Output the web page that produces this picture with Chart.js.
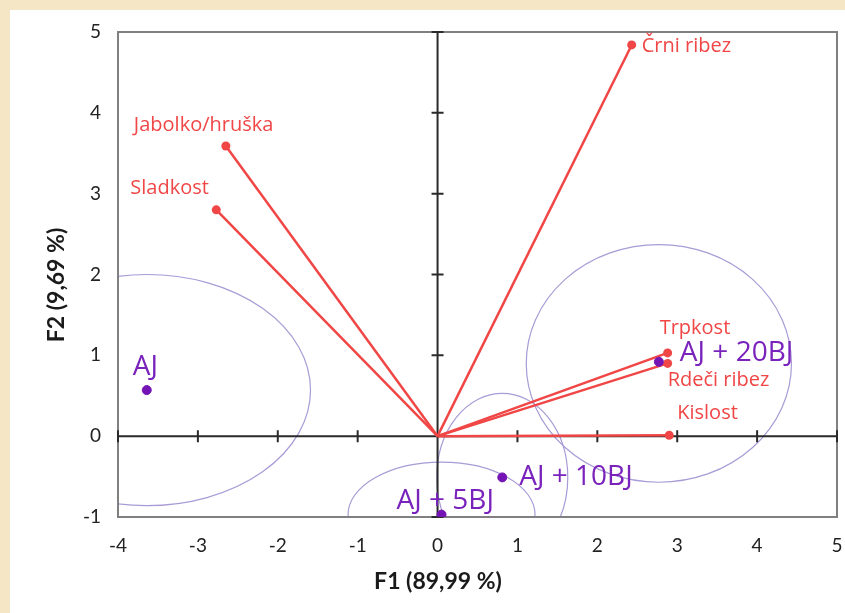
<!DOCTYPE html>
<html>
<head>
<meta charset="utf-8">
<script src="https://cdn.jsdelivr.net/npm/chart.js@4"></script>
<style>
    body { margin: 0; background: #f5e6c6; }
    #wrap { position: absolute; left: 10px; top: 10px; width: 835px; height: 603px; background: #fff; }
</style>
</head>
<body>
<div id="wrap"><canvas id="biplot" width="835" height="603"></canvas></div>
<script>
// variables (red vectors)
const varNames = ['Črni ribez', 'Jabolko/hruška', 'Sladkost', 'Trpkost', 'Rdeči ribez', 'Kislost']
const varF1 = [2.43, -2.65, -2.77, 2.88, 2.88, 2.90]
const varF2 = [4.84, 3.59, 2.80, 1.03, 0.90, 0.01]

// observations (purple points)
const obsNames = ['AJ', 'AJ + 20BJ', 'AJ + 10BJ', 'AJ + 5BJ']
const obsF1 = [-3.64, 2.77, 0.81, 0.05]
const obsF2 = [0.57, 0.92, -0.51, -0.97]

// confidence ellipses around observations
const ellCenterF1 = [-3.64, 2.77, 0.81, 0.05]
const ellCenterF2 = [0.57, 0.90, -0.51, -0.97]
const ellRadiusF1 = [2.05, 1.66, 0.82, 1.17]
const ellRadiusF2 = [1.43, 1.47, 1.04, 0.65]

const xTicks = [-4, -3, -2, -1, 0, 1, 2, 3, 4, 5]
const yTicks = [-1, 0, 1, 2, 3, 4, 5]

// label placement (pixel offsets from the point, left edge / vertical middle)
const varLabelOffsets = [[10, 1], [-92, -21], [-86, -22], [-8, -25], [0, 17], [8, -22]]
const obsLabelOffsets = [[-14, -23], [21, -9], [17, 0], [-45, -14]]

const RED = '#f04646'
const PURPLE = '#7414b4'
const PURPLE_TEXT = '#7a22bc'
const ELLIPSE = '#a89bd6'

let datasets = []
datasets.push({
    label: 'obs',
    data: obsF1.map((x, i) => ({ x: x, y: obsF2[i] })),
    backgroundColor: PURPLE,
    borderColor: PURPLE,
    pointRadius: 4.5,
    showLine: false,
    order: 0
})
varNames.forEach((name, i) => {
    datasets.push({
        label: name,
        data: [{ x: 0, y: 0 }, { x: varF1[i], y: varF2[i] }],
        borderColor: RED,
        backgroundColor: RED,
        borderWidth: 2.5,
        pointRadius: [0, 4.5],
        pointBorderWidth: 0,
        showLine: true,
        order: 1
    })
})

const biplotPlugin = {
    id: 'biplot',
    beforeDatasetsDraw(chart) {
        const { ctx, chartArea, scales: { x, y } } = chart
        const w = chartArea.right - chartArea.left
        const h = chartArea.bottom - chartArea.top
        ctx.save()
        ctx.beginPath()
        ctx.rect(chartArea.left, chartArea.top, w, h)
        ctx.clip()
        // ellipses
        ctx.strokeStyle = ELLIPSE
        ctx.lineWidth = 1.2
        ellCenterF1.forEach((cx, i) => {
            const px = x.getPixelForValue(cx)
            const py = y.getPixelForValue(ellCenterF2[i])
            const rx = Math.abs(x.getPixelForValue(cx + ellRadiusF1[i]) - px)
            const ry = Math.abs(y.getPixelForValue(ellCenterF2[i] + ellRadiusF2[i]) - py)
            ctx.beginPath()
            ctx.ellipse(px, py, rx, ry, 0, 0, Math.PI * 2)
            ctx.stroke()
        })
        ctx.restore()

        // frame
        ctx.save()
        ctx.strokeStyle = '#808080'
        ctx.lineWidth = 2
        ctx.strokeRect(chartArea.left, chartArea.top, w, h)
        ctx.restore()

        // zero axes with ticks
        ctx.save()
        ctx.strokeStyle = '#2a2a2a'
        ctx.lineWidth = 2
        const x0 = x.getPixelForValue(0)
        const y0 = y.getPixelForValue(0)
        ctx.beginPath()
        ctx.moveTo(chartArea.left, y0)
        ctx.lineTo(chartArea.right, y0)
        ctx.moveTo(x0, chartArea.top)
        ctx.lineTo(x0, chartArea.bottom)
        xTicks.forEach(v => {
            const p = x.getPixelForValue(v)
            ctx.moveTo(p, y0 - 6)
            ctx.lineTo(p, y0 + 6)
        })
        yTicks.forEach(v => {
            const p = y.getPixelForValue(v)
            ctx.moveTo(x0 - 6, p)
            ctx.lineTo(x0 + 6, p)
        })
        ctx.stroke()
        ctx.restore()
    },
    afterDatasetsDraw(chart) {
        const { ctx, scales: { x, y } } = chart
        ctx.save()
        ctx.textBaseline = 'middle'
        ctx.textAlign = 'left'
        ctx.fillStyle = RED
        ctx.font = '20px "Open Sans"'
        varNames.forEach((name, i) => {
            const px = x.getPixelForValue(varF1[i])
            const py = y.getPixelForValue(varF2[i])
            ctx.fillText(name, px + varLabelOffsets[i][0], py + varLabelOffsets[i][1])
        })
        ctx.fillStyle = PURPLE_TEXT
        ctx.font = '28px "Open Sans"'
        obsNames.forEach((name, i) => {
            const px = x.getPixelForValue(obsF1[i])
            const py = y.getPixelForValue(obsF2[i])
            ctx.fillText(name, px + obsLabelOffsets[i][0], py + obsLabelOffsets[i][1])
        })

        // axis titles
        ctx.fillStyle = '#1a1a1a'
        ctx.font = 'bold 23px Lato'
        ctx.textAlign = 'center'
        ctx.fillText('F1 (89,99 %)', 428, 572)
        ctx.translate(47, 275)
        ctx.rotate(-Math.PI / 2)
        ctx.fillText('F2 (9,69 %)', 0, 0)
        ctx.restore()
    }
}

var ctx = document.getElementById('biplot')
var myChart = new Chart(ctx, {
    type: 'scatter',
    data: { datasets: datasets },
    plugins: [biplotPlugin],
    options: {
        responsive: false,
        animation: false,
        layout: { padding: { top: 22, right: 8, left: 0, bottom: 0 } },
        plugins: {
            legend: { display: false },
            tooltip: { enabled: false }
        },
        scales: {
            x: {
                type: 'linear',
                min: -4,
                max: 5,
                afterFit: scale => {
                    scale.height = 96
                    scale.paddingLeft = 0
                    scale.paddingRight = 0
                },
                afterBuildTicks: scale => { scale.ticks = xTicks.map(v => ({ value: v })) },
                grid: { display: false, drawTicks: false },
                border: { display: false },
                ticks: { padding: 17, color: '#222', font: { family: 'Lato', size: 19 } }
            },
            y: {
                type: 'linear',
                min: -1,
                max: 5,
                afterFit: scale => {
                    scale.width = 108
                    scale.paddingTop = 0
                    scale.paddingBottom = 0
                },
                afterBuildTicks: scale => { scale.ticks = yTicks.map(v => ({ value: v })) },
                grid: { display: false, drawTicks: false },
                border: { display: false },
                ticks: { padding: 17, color: '#222', font: { family: 'Lato', size: 19 } }
            }
        }
    }
})
</script>
</body>
</html>
